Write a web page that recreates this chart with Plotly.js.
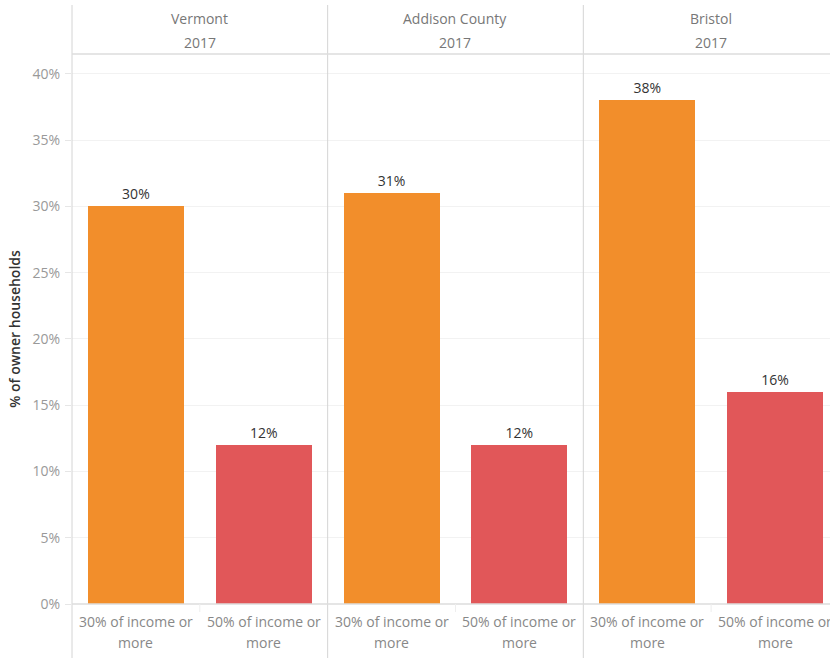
<!DOCTYPE html>
<html>
<head>
<meta charset="utf-8">
<script src="https://cdn.plot.ly/plotly-3.0.1.min.js"></script>
<style>html,body{margin:0;padding:0;background:#fff;}#chart{width:830px;height:658px;}</style>
</head>
<body>
<div id="chart"></div>
<script>
const regions = ['Vermont', 'Addison County', 'Bristol'];
const years = ['2017', '2017', '2017'];
const categoryLine1 = ['30% of income or', '50% of income or'];
const categoryLine2 = ['more', 'more'];
const share30 = [30, 31, 38];
const share50 = [12, 12, 16];
const yTickValues = [0, 5, 10, 15, 20, 25, 30, 35, 40];
const yTitle = '% of owner households';

const FONT = 'Open Sans, Lato, sans-serif';
const pos30 = regions.map((r, i) => i * 2);
const pos50 = regions.map((r, i) => i * 2 + 1);

const px = 1 / 550;
const traces = [
  {type: 'bar', x: pos30, y: share30, width: 0.75, marker: {color: '#F28E2B'},
   text: share30.map(v => v + '%'), textposition: 'outside', cliponaxis: false,
   textfont: {family: FONT, size: 14, color: '#333'}, hoverinfo: 'skip'},
  {type: 'bar', x: pos50, y: share50, width: 0.75, marker: {color: '#E15759'},
   text: share50.map(v => v + '%'), textposition: 'outside', cliponaxis: false,
   textfont: {family: FONT, size: 14, color: '#333'}, hoverinfo: 'skip'}
];

const annotations = [];
regions.forEach((r, i) => {
  annotations.push({xref: 'x', yref: 'paper', x: i * 2 + 0.5, y: 1 + 36 * px, text: r, showarrow: false,
    yanchor: 'middle', font: {family: FONT, size: 14, color: '#777'}});
  annotations.push({xref: 'x', yref: 'paper', x: i * 2 + 0.5, y: 1 + 12 * px, text: years[i], showarrow: false,
    yanchor: 'middle', font: {family: FONT, size: 14, color: '#777'}});
  categoryLine1.forEach((c, j) => {
    annotations.push({xref: 'x', yref: 'paper', x: i * 2 + j, y: -17 * px, text: c, showarrow: false,
      yanchor: 'middle', font: {family: FONT, size: 14, color: '#888'}});
    annotations.push({xref: 'x', yref: 'paper', x: i * 2 + j, y: -38 * px, text: categoryLine2[j], showarrow: false,
      yanchor: 'middle', font: {family: FONT, size: 14, color: '#888'}});
  });
});

const shapes = [];
const lineCol = '#d4d4d4';
shapes.push({type: 'line', xref: 'paper', yref: 'paper', x0: 0, x1: 0, y0: -54 * px, y1: 1 + 49 * px, line: {color: lineCol, width: 1}});
[1.5, 3.5].forEach(xv => shapes.push({type: 'line', xref: 'x', yref: 'paper', x0: xv, x1: xv, y0: -54 * px, y1: 1 + 49 * px, line: {color: lineCol, width: 1}}));
shapes.push({type: 'line', xref: 'paper', yref: 'paper', x0: 0, x1: 1, y0: 1, y1: 1, line: {color: '#dcdcdc', width: 1.5}});
shapes.push({type: 'line', xref: 'paper', yref: 'paper', x0: 0, x1: 1, y0: 0, y1: 0, line: {color: '#dcdcdc', width: 1.5}});
[0.5, 2.5, 4.5].forEach(xv => shapes.push({type: 'line', xref: 'x', yref: 'paper', x0: xv, x1: xv, y0: -8 * px, y1: 0, line: {color: '#eeeeee', width: 1}}));

const layout = {
  width: 830, height: 658,
  margin: {l: 72, r: 0, t: 54, b: 54},
  paper_bgcolor: '#fff', plot_bgcolor: '#fff',
  showlegend: false,
  bargap: 0,
  font: {family: FONT, color: '#777'},
  xaxis: {range: [-0.5, 5.43], showticklabels: false, showgrid: false, zeroline: false, showline: false, ticks: '', fixedrange: true},
  yaxis: {range: [0, 41.5], tickmode: 'array', tickvals: yTickValues, ticktext: yTickValues.map(v => v + '%'),
    tickfont: {family: FONT, size: 14, color: '#999'},
    showgrid: true, gridcolor: '#f2f2f2', zeroline: false, showline: false, ticks: 'outside', ticklen: 6, tickcolor: '#e6e6e6',
    ticklabelstandoff: 2,
    title: {text: yTitle, font: {family: FONT, size: 14, color: '#333', weight: 600}, standoff: 8}, fixedrange: true},
  annotations: annotations,
  shapes: shapes
};

Plotly.newPlot('chart', traces, layout, {displayModeBar: false, staticPlot: true});
</script>
</body>
</html>
